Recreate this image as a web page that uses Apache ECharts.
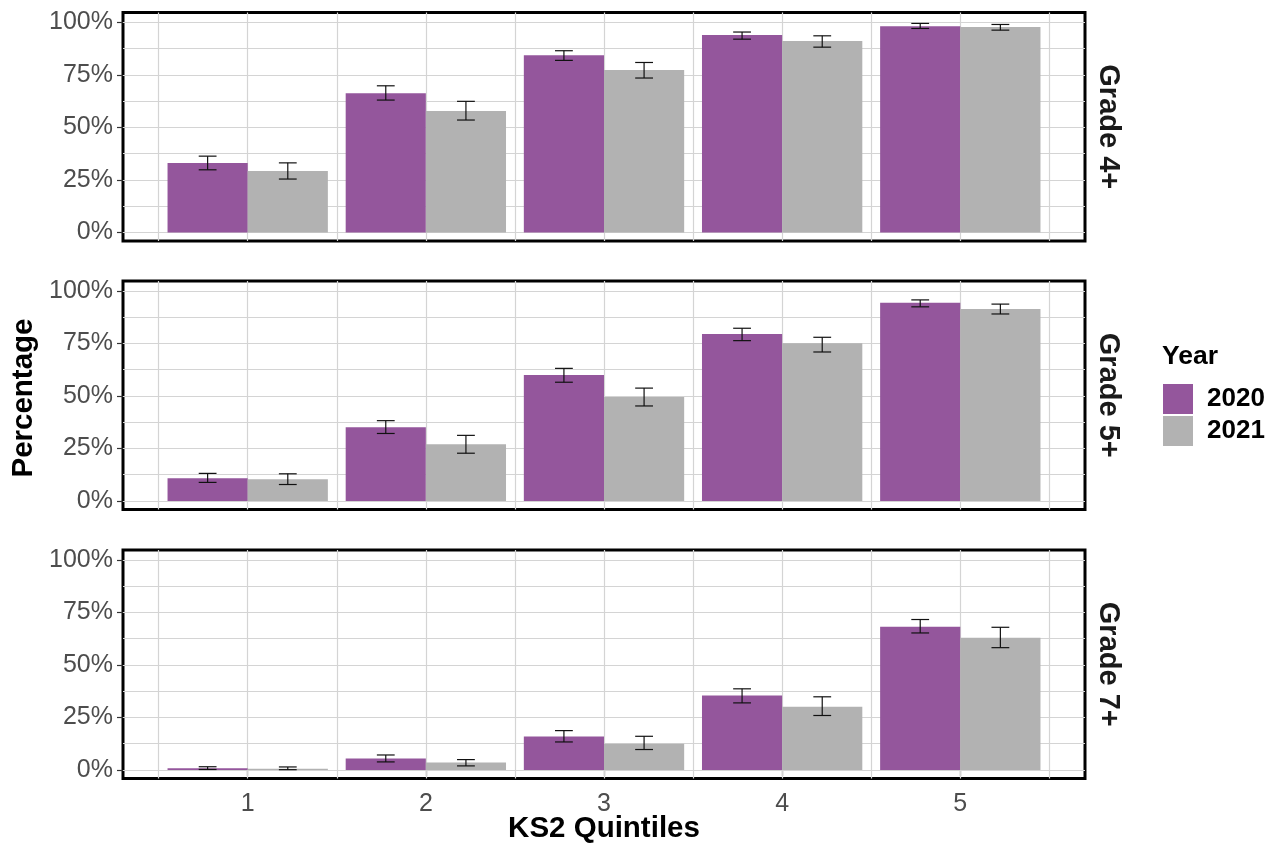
<!DOCTYPE html>
<html>
<head>
<meta charset="utf-8">
<script src="https://cdn.jsdelivr.net/npm/echarts@6/dist/echarts.min.js"></script>
<style>
html,body{margin:0;padding:0;background:#fff;}
#chart{width:1281px;height:843px;}
</style>
</head>
<body>
<div id="chart"></div>
<script>
// ---------- data ----------
const quintiles = ['1', '2', '3', '4', '5'];
const years = ['2020', '2021'];
const grades = ['Grade 4+', 'Grade 5+', 'Grade 7+'];
const yTicks = [0, 25, 50, 75, 100];
const yGrid = [0, 12.5, 25, 37.5, 50, 62.5, 75, 87.5, 100];
const xGrid = [0.5, 1, 1.5, 2, 2.5, 3, 3.5, 4, 4.5, 5, 5.5];

const g4_2020 = [33.0, 66.2, 84.4, 94.0, 98.2];
const g4_2020_lo = [29.8, 63.0, 81.9, 92.0, 97.1];
const g4_2020_hi = [36.3, 69.8, 86.5, 95.4, 99.5];
const g4_2021 = [29.2, 57.8, 77.3, 91.1, 97.8];
const g4_2021_lo = [25.4, 53.5, 73.5, 88.2, 96.3];
const g4_2021_hi = [33.1, 62.4, 80.9, 93.6, 99.0];

const g5_2020 = [10.8, 35.1, 59.9, 79.5, 94.3];
const g5_2020_lo = [8.8, 32.1, 56.5, 76.3, 92.4];
const g5_2020_hi = [13.1, 38.2, 63.1, 82.2, 95.7];
const g5_2021 = [10.3, 27.0, 49.5, 75.1, 91.4];
const g5_2021_lo = [7.8, 22.7, 45.2, 70.9, 89.0];
const g5_2021_hi = [12.9, 31.2, 53.7, 77.9, 93.7];

const g7_2020 = [0.8, 5.4, 15.9, 35.4, 68.2];
const g7_2020_lo = [0.2, 3.8, 13.3, 31.9, 65.2];
const g7_2020_hi = [1.5, 7.1, 18.7, 38.6, 71.6];
const g7_2021 = [0.6, 3.5, 12.5, 30.1, 62.9];
const g7_2021_lo = [0.1, 1.9, 9.7, 25.9, 58.2];
const g7_2021_hi = [1.4, 4.9, 16.0, 34.8, 67.9];

const panels = [
  {grade: grades[0], s2020: [g4_2020, g4_2020_lo, g4_2020_hi], s2021: [g4_2021, g4_2021_lo, g4_2021_hi]},
  {grade: grades[1], s2020: [g5_2020, g5_2020_lo, g5_2020_hi], s2021: [g5_2021, g5_2021_lo, g5_2021_hi]},
  {grade: grades[2], s2020: [g7_2020, g7_2020_lo, g7_2020_hi], s2021: [g7_2021, g7_2021_lo, g7_2021_hi]}
];

// ---------- style ----------
const FONT = "'Liberation Sans', Arial, Helvetica, sans-serif";
const COLORS = {'2020': '#94569C', '2021': '#B2B2B2'};
const GRID_COLOR = '#d4d4d4';
const PANEL_TOP = [12.5, 281, 550];
const PANEL_H = 228.5;
const PANEL_LEFT = 123;
const PANEL_W = 962;
const DODGE = 0.45;      // bar width in axis units
const CAP = 0.1;         // errorbar cap width in axis units

const chart = echarts.init(document.getElementById('chart'), null, {renderer: 'canvas'});

const grid = [], xAxis = [], yAxis = [], series = [];

function makeRender(offset) {
  return function (params, api) {
    const q = api.value(0), v = api.value(1), lo = api.value(2), hi = api.value(3);
    const left = q + offset;
    const pTop = api.coord([left, v]);
    const pBot = api.coord([left + DODGE, 0]);
    const mid = left + DODGE / 2;
    const eLo = api.coord([mid, lo]);
    const eHi = api.coord([mid, hi]);
    const cL = api.coord([mid - CAP / 2, hi])[0];
    const cR = api.coord([mid + CAP / 2, hi])[0];
    const lineStyle = {stroke: '#111', lineWidth: 1.2, fill: null};
    return {
      type: 'group',
      children: [
        {type: 'rect', shape: {x: pTop[0], y: pTop[1], width: pBot[0] - pTop[0], height: pBot[1] - pTop[1]},
         style: {fill: api.visual('color')}},
        {type: 'line', shape: {x1: eLo[0], y1: eLo[1], x2: eHi[0], y2: eHi[1]}, style: lineStyle},
        {type: 'line', shape: {x1: cL, y1: eHi[1], x2: cR, y2: eHi[1]}, style: lineStyle},
        {type: 'line', shape: {x1: cL, y1: eLo[1], x2: cR, y2: eLo[1]}, style: lineStyle}
      ]
    };
  };
}

panels.forEach((p, i) => {
  const isBottom = i === panels.length - 1;
  grid.push({
    left: PANEL_LEFT, top: PANEL_TOP[i], width: PANEL_W, height: PANEL_H,
    show: true, borderColor: '#000', borderWidth: 3, backgroundColor: 'transparent',
    containLabel: false, outerBoundsMode: 'none'
  });
  xAxis.push({
    type: 'value', gridIndex: i, min: 0.3, max: 5.7,
    axisLine: {show: false},
    splitLine: {show: false},
    axisTick: {show: isBottom, customValues: quintiles.map(Number), length: 6, lineStyle: {color: '#333', width: 1.2}},
    axisLabel: {show: isBottom, customValues: quintiles.map(Number), margin: 13,
      formatter: v => quintiles[Math.round(v) - 1] || '',
      color: '#4d4d4d', fontSize: 25, fontFamily: FONT}
  });
  yAxis.push({
    type: 'value', gridIndex: i, min: -4.1, max: 104.7,
    axisLine: {show: false},
    splitLine: {show: false},
    axisTick: {show: true, customValues: yTicks, length: 6, lineStyle: {color: '#333', width: 1.2}},
    axisLabel: {customValues: yTicks, formatter: v => v + '%', margin: 10,
      color: '#4d4d4d', fontSize: 25, fontFamily: FONT}
  });
  // gridlines (behind the bars)
  series.push({
    type: 'line', xAxisIndex: i, yAxisIndex: i, data: [], z: 1, silent: true,
    markLine: {
      z: 1, silent: true, symbol: 'none', animation: false,
      label: {show: false},
      lineStyle: {color: GRID_COLOR, width: 1.2, type: 'solid'},
      emphasis: {disabled: true},
      data: xGrid.map(v => ({xAxis: v})).concat(yGrid.map(v => ({yAxis: v})))
    }
  });
  [['2020', p.s2020, -DODGE], ['2021', p.s2021, 0]].forEach(([yr, arr, off]) => {
    series.push({
      type: 'custom', name: yr, xAxisIndex: i, yAxisIndex: i, z: 10,
      itemStyle: {color: COLORS[yr]},
      encode: {x: 0, y: 1},
      renderItem: makeRender(off),
      data: quintiles.map((q, k) => [Number(q), arr[0][k], arr[1][k], arr[2][k]])
    });
  });
});

const graphic = [];
panels.forEach((p, i) => {
  graphic.push({
    type: 'text', x: 1108, y: PANEL_TOP[i] + PANEL_H / 2, rotation: -Math.PI / 2,
    style: {text: p.grade, font: 'bold 29px ' + FONT, fill: '#1a1a1a',
      align: 'center', verticalAlign: 'middle', textAlign: 'center', textVerticalAlign: 'middle'}
  });
});
graphic.push({
  type: 'text', x: 24, y: 398, rotation: Math.PI / 2,
  style: {text: 'Percentage', font: 'bold 29.5px ' + FONT, fill: '#000',
    align: 'center', verticalAlign: 'middle', textAlign: 'center', textVerticalAlign: 'middle'}
});
graphic.push({
  type: 'text', x: 604, y: 829,
  style: {text: 'KS2 Quintiles', font: 'bold 29.5px ' + FONT, fill: '#000',
    align: 'center', verticalAlign: 'middle', textAlign: 'center', textVerticalAlign: 'middle'}
});
graphic.push({
  type: 'text', x: 1162, y: 357,
  style: {text: 'Year', font: 'bold 26.5px ' + FONT, fill: '#000',
    align: 'left', verticalAlign: 'middle', textAlign: 'left', textVerticalAlign: 'middle'}
});

chart.setOption({
  animation: false,
  backgroundColor: '#fff',
  textStyle: {fontFamily: FONT},
  grid, xAxis, yAxis, series, graphic,
  legend: {
    data: years, orient: 'vertical', left: 1163, top: 384, padding: 0,
    itemWidth: 30, itemHeight: 30, itemGap: 2, icon: 'rect',
    selectedMode: false,
    textStyle: {fontSize: 26, fontWeight: 'bold', color: '#000', fontFamily: FONT, padding: [0, 0, 0, 9]}
  }
});
</script>
</body>
</html>
